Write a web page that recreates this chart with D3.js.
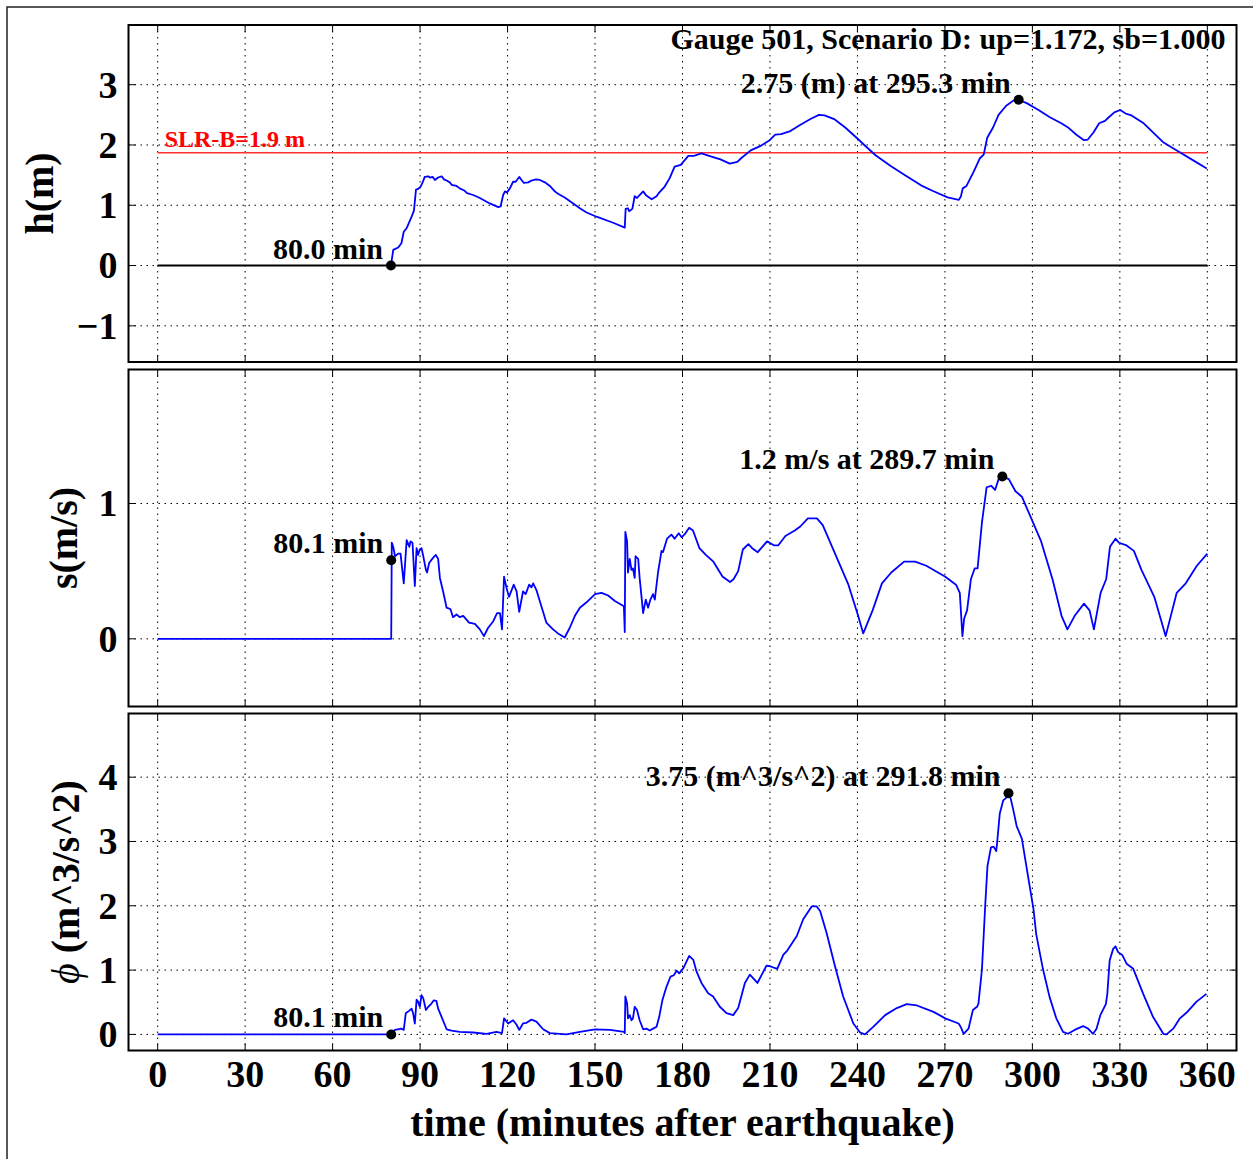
<!DOCTYPE html>
<html>
<head>
<meta charset="utf-8">
<script src="https://cdn.jsdelivr.net/npm/d3@7"></script>
<style>
  body { margin: 0; background: #fff; }
  svg { display: block; }
  text { font-family: "Liberation Serif", "Times New Roman", serif; font-weight: bold; fill: #000; }
</style>
</head>
<body>
<div id="chart"></div>
<script>
// ── Gauge 501 time series (h, s, phi) ──

const TITLE = 'Gauge 501, Scenario D: up=1.172, sb=1.000';
const X_LABEL = 'time (minutes after earthquake)';
const TIME_TICKS = [0, 30, 60, 90, 120, 150, 180, 210, 240, 270, 300, 330, 360];
const SLR_LEVEL = 1.87;
const SLR_LABEL = 'SLR-B=1.9 m';

// depth h (m), [minutes, value]
const hSeries = [
    [80.0, 0], [80.8, 0.26], [82.5, 0.30], [83.6, 0.37], [84.4, 0.56], [85.4, 0.62], [87.1, 0.81], [87.9, 0.91],
    [88.6, 1.26], [89.3, 1.27], [90.2, 1.31], [90.8, 1.37], [91.6, 1.47], [92.8, 1.48], [93.4, 1.46], [94.3, 1.47],
    [95.1, 1.42], [96.2, 1.46], [97.4, 1.48], [98.2, 1.43], [99.1, 1.41], [100.2, 1.38], [100.8, 1.34], [102.5, 1.32],
    [103.6, 1.28], [105.3, 1.24], [106.1, 1.20], [108.2, 1.17], [110.5, 1.12], [113.9, 1.03], [116.8, 0.97], [117.6, 0.98],
    [118.5, 1.17], [119.1, 1.23], [119.8, 1.21], [120.8, 1.28], [121.9, 1.39], [122.8, 1.39], [124.0, 1.47], [124.8, 1.42],
    [125.6, 1.37], [127.1, 1.38], [128.2, 1.41], [129.7, 1.43], [131.1, 1.42], [132.8, 1.38], [134.5, 1.32], [136.2, 1.23],
    [137.3, 1.19], [139.6, 1.13], [142.5, 1.03], [144.8, 0.95], [147.1, 0.88], [150.5, 0.81], [156.2, 0.71], [160.2, 0.63],
    [160.5, 0.94], [161.3, 0.95], [161.7, 0.90], [162.8, 0.94], [163.6, 1.15], [164.4, 1.12], [165.3, 1.17], [166.5, 1.23],
    [167.6, 1.16], [169.4, 1.10], [171.1, 1.15], [172.0, 1.21], [173.9, 1.31], [175.6, 1.45], [177.3, 1.64], [179.4, 1.67],
    [182.0, 1.82], [183.9, 1.82], [186.5, 1.86], [189.1, 1.82], [193.0, 1.76], [196.2, 1.69], [198.8, 1.72], [200.1, 1.78],
    [203.4, 1.91], [206.6, 1.98], [209.9, 2.08], [211.8, 2.17], [213.8, 2.18], [217.0, 2.23], [220.3, 2.33], [224.2, 2.44],
    [226.8, 2.50], [228.7, 2.49], [232.0, 2.43], [235.8, 2.29], [239.7, 2.12], [243.0, 1.97], [246.2, 1.83], [251.4, 1.65],
    [256.6, 1.49], [261.8, 1.33], [265.7, 1.24], [270.9, 1.13], [274.8, 1.09], [275.5, 1.15], [276.1, 1.28], [277.4, 1.32],
    [280.0, 1.57], [282.0, 1.78], [283.3, 1.84], [284.5, 2.12], [286.5, 2.29], [288.4, 2.50], [291.0, 2.65], [293.6, 2.74],
    [295.3, 2.75], [298.2, 2.69], [302.1, 2.58], [306.0, 2.46], [309.9, 2.36], [312.5, 2.28], [315.1, 2.17], [317.7, 2.08],
    [319.0, 2.09], [321.0, 2.21], [322.9, 2.36], [324.9, 2.40], [326.2, 2.46], [328.1, 2.54], [330.1, 2.58], [332.0, 2.52],
    [334.0, 2.49], [337.9, 2.37], [341.1, 2.22], [345.0, 2.04], [350.1, 1.89], [355.3, 1.74], [359.8, 1.61]
];

// speed s (m/s)
const sSeries = [
    [0, 0], [80.1, 0], [80.3, 0.71], [80.8, 0.68], [81.4, 0.61], [82.5, 0.63], [83.3, 0.63], [84.4, 0.41], [85.4, 0.73],
    [86.3, 0.68], [86.7, 0.72], [87.4, 0.71], [88.2, 0.39], [88.8, 0.67], [89.3, 0.62], [89.9, 0.66], [90.5, 0.67],
    [91.1, 0.61], [92.0, 0.51], [92.4, 0.49], [93.1, 0.56], [94.5, 0.60], [95.4, 0.62], [96.2, 0.59], [96.8, 0.45],
    [97.9, 0.35], [99.1, 0.23], [100.4, 0.22], [101.3, 0.16], [102.5, 0.18], [103.6, 0.16], [104.8, 0.17], [106.8, 0.12],
    [108.8, 0.11], [110.5, 0.07], [111.9, 0.02], [113.3, 0.08], [115.1, 0.13], [116.4, 0.19], [117.4, 0.19], [118.1, 0.07],
    [118.8, 0.46], [119.6, 0.38], [120.5, 0.31], [121.4, 0.36], [122.1, 0.40], [123.1, 0.35], [124.0, 0.20], [125.3, 0.35],
    [126.2, 0.33], [127.4, 0.40], [128.2, 0.38], [128.8, 0.41], [129.9, 0.36], [131.6, 0.24], [133.3, 0.12], [135.6, 0.07],
    [137.3, 0.04], [139.6, 0.01], [141.3, 0.08], [143.1, 0.17], [144.8, 0.23], [147.1, 0.27], [150.0, 0.33], [152.2, 0.34],
    [154.5, 0.32], [156.8, 0.28], [159.9, 0.24], [160.2, 0.05], [160.4, 0.79], [161.0, 0.72], [161.3, 0.49], [161.9, 0.59],
    [162.5, 0.51], [163.0, 0.52], [163.6, 0.45], [163.9, 0.61], [164.8, 0.59], [165.3, 0.45], [166.5, 0.19], [167.4, 0.29],
    [168.2, 0.23], [169.0, 0.29], [169.9, 0.33], [170.5, 0.29], [171.6, 0.49], [172.8, 0.65], [173.3, 0.64], [174.7, 0.74],
    [176.2, 0.77], [177.3, 0.74], [178.7, 0.78], [179.7, 0.75], [181.0, 0.78], [182.3, 0.82], [183.6, 0.80], [185.8, 0.67],
    [188.0, 0.62], [190.6, 0.57], [193.7, 0.46], [196.3, 0.42], [197.5, 0.44], [199.1, 0.50], [200.7, 0.66], [202.6, 0.70],
    [203.9, 0.67], [205.8, 0.64], [209.0, 0.72], [211.5, 0.69], [212.8, 0.69], [215.3, 0.76], [218.5, 0.80], [220.4, 0.83],
    [223.0, 0.89], [226.1, 0.89], [228.1, 0.84], [232.5, 0.62], [236.9, 0.40], [240.1, 0.18], [242.0, 0.04], [245.2, 0.21],
    [248.4, 0.41], [251.6, 0.49], [256.0, 0.57], [259.8, 0.57], [263.6, 0.54], [270.0, 0.46], [273.8, 0.40], [275.1, 0.34],
    [276.0, 0.02], [276.6, 0.15], [277.6, 0.21], [278.9, 0.44], [280.2, 0.52], [281.2, 0.52], [282.7, 0.86], [284.3, 1.12],
    [285.9, 1.13], [287.2, 1.10], [288.4, 1.18], [289.7, 1.20], [291.9, 1.18], [294.2, 1.09], [296.4, 1.05], [299.2, 0.91],
    [303.0, 0.72], [306.9, 0.44], [310.0, 0.17], [312.0, 0.07], [314.5, 0.17], [317.7, 0.26], [319.6, 0.21], [321.1, 0.07],
    [323.4, 0.34], [325.3, 0.44], [326.6, 0.68], [328.5, 0.74], [329.7, 0.71], [332.3, 0.69], [334.8, 0.65], [337.4, 0.51],
    [341.8, 0.31], [345.7, 0.02], [349.5, 0.34], [352.6, 0.41], [356.4, 0.54], [360.0, 0.63]
];

// momentum flux phi (m^3/s^2)
const phiSeries = [
    [0, 0], [80.1, 0], [81.4, 0.07], [83.6, 0.09], [84.4, 0.07], [85.1, 0.33], [86.3, 0.37], [87.1, 0.40], [87.6, 0.33],
    [88.2, 0.17], [88.8, 0.54], [89.3, 0.51], [89.9, 0.43], [90.5, 0.61], [91.1, 0.56], [92.0, 0.38], [92.8, 0.43],
    [93.9, 0.48], [94.7, 0.53], [95.6, 0.52], [96.2, 0.40], [97.4, 0.27], [99.1, 0.08], [100.8, 0.06], [103.6, 0.04],
    [108.2, 0.03], [112.8, 0.01], [116.2, 0.04], [118.1, 0.02], [118.8, 0.25], [120.2, 0.17], [121.9, 0.22], [123.1, 0.15],
    [124.0, 0.07], [125.3, 0.17], [126.5, 0.18], [128.2, 0.23], [129.9, 0.20], [132.2, 0.08], [134.5, 0.02], [140.2, 0.0],
    [144.8, 0.04], [150.0, 0.08], [155.1, 0.07], [160.0, 0.04], [160.2, 0.02], [160.4, 0.59], [161.0, 0.48], [161.3, 0.25],
    [161.9, 0.30], [162.5, 0.22], [163.0, 0.25], [163.6, 0.43], [164.4, 0.38], [165.3, 0.22], [166.5, 0.08], [167.6, 0.09],
    [168.8, 0.06], [169.9, 0.09], [171.1, 0.12], [172.0, 0.27], [173.1, 0.53], [174.5, 0.74], [175.9, 0.90], [177.0, 0.92],
    [178.0, 0.99], [178.9, 0.95], [180.3, 1.03], [182.3, 1.22], [183.7, 1.16], [184.8, 0.98], [186.5, 0.80], [188.8, 0.64],
    [190.5, 0.59], [192.8, 0.43], [195.1, 0.33], [197.4, 0.30], [199.1, 0.41], [201.4, 0.80], [203.1, 0.93], [205.7, 0.80],
    [208.8, 1.07], [210.0, 1.06], [212.5, 1.02], [214.6, 1.24], [215.7, 1.29], [219.2, 1.53], [221.4, 1.79], [224.3, 1.99],
    [226.0, 1.99], [227.2, 1.92], [229.4, 1.58], [232.3, 1.06], [235.1, 0.59], [238.6, 0.17], [240.9, 0.03], [242.6, 0.0],
    [245.5, 0.12], [249.5, 0.30], [253.5, 0.41], [256.9, 0.47], [260.4, 0.45], [266.1, 0.35], [270.1, 0.25], [274.7, 0.17],
    [275.5, 0.11], [276.4, 0.01], [278.1, 0.09], [279.6, 0.38], [281.0, 0.43], [281.5, 0.48], [282.7, 1.01], [283.8, 1.99],
    [284.6, 2.62], [285.8, 2.91], [286.7, 2.92], [287.6, 2.85], [287.9, 2.98], [288.8, 3.43], [290.0, 3.64], [291.3, 3.69],
    [291.8, 3.75], [292.6, 3.66], [293.5, 3.48], [294.6, 3.24], [296.4, 3.04], [298.1, 2.57], [300.4, 1.94], [301.3, 1.56],
    [303.6, 1.02], [305.9, 0.58], [308.2, 0.25], [310.5, 0.04], [312.2, 0.01], [314.5, 0.07], [317.4, 0.13], [319.1, 0.09],
    [320.8, 0.01], [322.0, 0.09], [323.3, 0.30], [325.2, 0.47], [325.7, 0.63], [326.5, 1.15], [327.7, 1.33], [328.5, 1.37],
    [329.4, 1.28], [330.9, 1.23], [332.3, 1.10], [334.6, 1.02], [338.0, 0.63], [341.4, 0.27], [344.9, 0.01], [346.0, 0.0],
    [348.3, 0.09], [350.6, 0.25], [352.9, 0.34], [356.3, 0.51], [359.7, 0.63]
];

// first arrival and maximum markers, [minutes, value, label]
const arrivals = [[80.0, 0, '80.0 min'], [80.1, 0.58, '80.1 min'], [80.1, 0, '80.1 min']];
const maxima = [
    [295.3, 2.75, '2.75 (m) at 295.3 min'],
    [289.7, 1.2, '1.2 m/s at 289.7 min'],
    [291.8, 3.75, '3.75 (m^3/s^2) at 291.8 min']
];

// y label pieces: [italic symbol, rest]
const yLabels = [['', 'h(m)'], ['', 's(m/s)'], ['\u03d5', ' (m^3/s^2)']];
const yDomains = [[-1.6, 3.99], [-0.5, 1.99], [-0.25, 4.99]];
const yTicks = [[-1, 0, 1, 2, 3], [0, 1], [0, 1, 2, 3, 4]];
const yTickText = [['\u22121', '0', '1', '2', '3'], ['0', '1'], ['0', '1', '2', '3', '4']];

const W = 1253, H = 1159;
const LEFT = 128.5, RIGHT = 1236.5;
const PANEL_TOPS = [25, 369.5, 713.5];
const PANEL_H = 337;
const ylabelX = [53, 77, 79];

const svg = d3.select('#chart').append('svg')
    .attr('width', W)
    .attr('height', H);

// outer figure frame
svg.append('rect')
    .attr('x', 7).attr('y', 7)
    .attr('width', 1400).attr('height', 1400)
    .attr('fill', 'none')
    .attr('stroke', '#222')
    .attr('stroke-width', 1.5);

const x = d3.scaleLinear().domain([-10, 370]).range([LEFT, RIGHT]);
const series = [hSeries, sSeries, phiSeries];

series.forEach((data, i) => {
    const top = PANEL_TOPS[i];
    const y = d3.scaleLinear().domain(yDomains[i]).range([top + PANEL_H, top]);
    const g = svg.append('g');

    // dotted grid
    g.append('g').selectAll('line')
        .data(TIME_TICKS)
        .join('line')
        .attr('x1', d => x(d)).attr('x2', d => x(d))
        .attr('y1', top).attr('y2', top + PANEL_H)
        .attr('stroke', '#000').attr('stroke-width', 1)
        .attr('stroke-dasharray', '1.5,4.5');
    g.append('g').selectAll('line')
        .data(yTicks[i])
        .join('line')
        .attr('x1', LEFT).attr('x2', RIGHT)
        .attr('y1', d => y(d)).attr('y2', d => y(d))
        .attr('stroke', '#000').attr('stroke-width', 1)
        .attr('stroke-dasharray', '1.5,4.5');

    // inward ticks on all four sides
    const tl = 7;
    const ticks = g.append('g').attr('stroke', '#000').attr('stroke-width', 1);
    TIME_TICKS.forEach(t => {
        ticks.append('line').attr('x1', x(t)).attr('x2', x(t)).attr('y1', top).attr('y2', top + tl);
        ticks.append('line').attr('x1', x(t)).attr('x2', x(t)).attr('y1', top + PANEL_H).attr('y2', top + PANEL_H - tl);
    });
    yTicks[i].forEach(v => {
        ticks.append('line').attr('x1', LEFT).attr('x2', LEFT + tl).attr('y1', y(v)).attr('y2', y(v));
        ticks.append('line').attr('x1', RIGHT).attr('x2', RIGHT - tl).attr('y1', y(v)).attr('y2', y(v));
    });

    // y tick labels
    g.append('g').selectAll('text')
        .data(yTicks[i])
        .join('text')
        .attr('x', LEFT - 11)
        .attr('y', d => y(d))
        .attr('dy', '0.34em')
        .attr('text-anchor', 'end')
        .attr('font-size', 38)
        .text((d, k) => yTickText[i][k]);

    // y axis label
    const yl = g.append('text')
        .attr('transform', `translate(${ylabelX[i]},${top + PANEL_H / 2}) rotate(-90)`)
        .attr('text-anchor', 'middle')
        .attr('font-size', 40);
    if (yLabels[i][0]) {
        yl.append('tspan')
            .style('font-style', 'italic')
            .style('font-weight', 'normal')
            .text(yLabels[i][0]);
    }
    yl.append('tspan').text(yLabels[i][1]);

    if (i === 0) {
        // zero line and SLR level
        g.append('line')
            .attr('x1', x(0)).attr('x2', x(360))
            .attr('y1', y(0)).attr('y2', y(0))
            .attr('stroke', '#000').attr('stroke-width', 2);
        g.append('line')
            .attr('x1', x(0)).attr('x2', x(360))
            .attr('y1', y(SLR_LEVEL)).attr('y2', y(SLR_LEVEL))
            .attr('stroke', '#ff3030').attr('stroke-width', 1.5);
        g.append('text')
            .attr('x', x(0) + 7)
            .attr('y', y(SLR_LEVEL) - 6)
            .attr('font-size', 24)
            .style('fill', '#ff0000')
            .text(SLR_LABEL);
        g.append('text')
            .attr('x', RIGHT - 11)
            .attr('y', top + 24)
            .attr('text-anchor', 'end')
            .attr('font-size', 30)
            .text(TITLE);
    }

    // series line
    const line = d3.line().x(d => x(d[0])).y(d => y(d[1]));
    g.append('path')
        .datum(data)
        .attr('d', line)
        .attr('fill', 'none')
        .attr('stroke', '#0000ff')
        .attr('stroke-width', 1.8)
        .attr('stroke-linejoin', 'round');

    // markers with labels
    [arrivals[i], maxima[i]].forEach(m => {
        g.append('circle')
            .attr('cx', x(m[0])).attr('cy', y(m[1]))
            .attr('r', 5).attr('fill', '#000');
        g.append('text')
            .attr('x', x(m[0]) - 8)
            .attr('y', y(m[1]) - 7)
            .attr('text-anchor', 'end')
            .attr('font-size', 30)
            .text(m[2]);
    });

    // panel frame
    g.append('rect')
        .attr('x', LEFT).attr('y', top)
        .attr('width', RIGHT - LEFT).attr('height', PANEL_H)
        .attr('fill', 'none')
        .attr('stroke', '#000')
        .attr('stroke-width', 2);

    // x tick labels on the bottom panel only
    if (i === 2) {
        g.append('g').selectAll('text')
            .data(TIME_TICKS)
            .join('text')
            .attr('x', d => x(d))
            .attr('y', top + PANEL_H + 36)
            .attr('text-anchor', 'middle')
            .attr('font-size', 38)
            .text(d => d);
        g.append('text')
            .attr('x', (LEFT + RIGHT) / 2)
            .attr('y', top + PANEL_H + 85)
            .attr('text-anchor', 'middle')
            .attr('font-size', 40)
            .text(X_LABEL);
    }
});
</script>
</body>
</html>
